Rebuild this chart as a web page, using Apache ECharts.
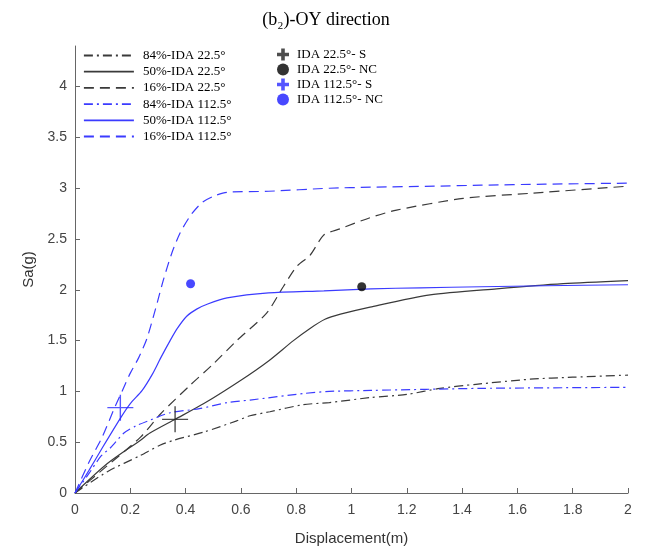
<!DOCTYPE html>
<html>
<head>
<meta charset="utf-8">
<script src="https://cdn.jsdelivr.net/npm/echarts@6/dist/echarts.min.js"></script>
<style>html,body{margin:0;padding:0;background:#fff}#c{width:652px;height:552px}</style>
</head>
<body>
<div id="c"></div>
<script>
// ---- data (Displacement m, Sa g) ----
const ida84_22 = [[0,0],[0.117,0.21],[0.237,0.37],[0.307,0.47],[0.358,0.52],[0.466,0.6],[0.585,0.71],[0.633,0.76],[0.705,0.8],[0.826,0.87],[0.92,0.89],[1.07,0.94],[1.2,0.97],[1.32,1.03],[1.45,1.07],[1.646,1.12],[1.8,1.14],[2.0,1.16]];
const ida50_22 = [[0,0],[0.117,0.29],[0.237,0.52],[0.271,0.59],[0.362,0.725],[0.466,0.88],[0.6,1.11],[0.7,1.3],[0.79,1.5],[0.85,1.62],[0.904,1.71],[0.96,1.76],[1.067,1.83],[1.284,1.95],[1.525,2.01],[1.766,2.06],[2.0,2.09]];
const ida16_22 = [[0,0],[0.1,0.23],[0.237,0.55],[0.31,0.78],[0.416,1.06],[0.5,1.27],[0.585,1.5],[0.693,1.77],[0.753,2.03],[0.802,2.23],[0.85,2.34],[0.9,2.54],[0.958,2.6],[1.067,2.71],[1.163,2.785],[1.404,2.9],[1.646,2.95],[2.0,3.02]];
const ida84_112 = [[0,0],[0.05,0.19],[0.093,0.36],[0.13,0.45],[0.177,0.59],[0.22,0.66],[0.274,0.72],[0.344,0.79],[0.45,0.83],[0.55,0.89],[0.633,0.915],[0.83,0.98],[0.92,1.0],[1.07,1.01],[1.47,1.03],[2.0,1.04]];
const ida50_112 = [[0,0],[0.05,0.22],[0.1,0.45],[0.165,0.74],[0.2,0.88],[0.243,1.01],[0.28,1.17],[0.31,1.33],[0.344,1.5],[0.37,1.62],[0.404,1.74],[0.44,1.81],[0.48,1.86],[0.55,1.92],[0.7,1.97],[0.9,1.99],[1.07,2.01],[1.25,2.02],[1.47,2.03],[1.7,2.04],[2.0,2.05]];
const ida16_112 = [[0,0],[0.05,0.3],[0.1,0.56],[0.14,0.82],[0.17,1.0],[0.2,1.18],[0.23,1.33],[0.26,1.52],[0.29,1.8],[0.32,2.1],[0.35,2.36],[0.38,2.56],[0.42,2.74],[0.46,2.86],[0.5,2.92],[0.55,2.96],[0.7,2.97],[0.92,3.0],[1.07,3.01],[1.3,3.02],[1.47,3.03],[1.7,3.04],[2.0,3.05]];
const pt_S_22 = [[0.362,0.725]];
const pt_NC_22 = [[1.037,2.03]];
const pt_S_112 = [[0.164,0.84]];
const pt_NC_112 = [[0.418,2.06]];
const xTicks = [0,0.2,0.4,0.6,0.8,1,1.2,1.4,1.6,1.8,2];
const yTicks = [0,0.5,1,1.5,2,2.5,3,3.5,4];
const lineNames = ['84%-IDA 22.5°','50%-IDA 22.5°','16%-IDA 22.5°','84%-IDA 112.5°','50%-IDA 112.5°','16%-IDA 112.5°'];
const ptNames = ['IDA 22.5°- S','IDA 22.5°- NC','IDA 112.5°- S','IDA 112.5°- NC'];

const BLK = '#3a3a3a', BLU = '#3b3bff';
const DASH = [10,6], DASHDOT = [9,4,2,4];
const serif = 'Liberation Serif, Times New Roman, serif';
const sans = 'Liberation Sans, Arial, sans-serif';
const crossPath = 'path://M0,12.3H26V13.7H0Z M12.3,0H13.7V26H12.3Z';
const plusIcon = 'path://M0,3.5H3.5V0H6.5V3.5H10V6.5H6.5V10H3.5V6.5H0Z';

function ln(name, data, color, type, w) {
  return {name, type:'line', data, symbol:'none', smooth:0.25,
    lineStyle:{color, width:w||1.2, type}, itemStyle:{color}, z:2};
}
const chart = echarts.init(document.getElementById('c'));
chart.setOption({
  animation:false,
  title:{text:'(b\u2082)-OY direction', left:'center', top:6,
    textStyle:{fontFamily:serif, fontSize:18, fontWeight:'normal', color:'#000'}},
  grid:{left:75, right:24, top:46, bottom:59},
  legend:[
    {orient:'vertical', left:83, top:49, padding:0, itemWidth:50, itemHeight:14, itemGap:3.2,
     data:lineNames, itemStyle:{opacity:0}, lineStyle:{width:1.8},
     textStyle:{fontFamily:serif, fontSize:13, color:'#000', padding:[0,0,0,4]}},
    {orient:'vertical', left:277, top:48, padding:0, itemWidth:12, itemHeight:13, itemGap:2,
     data:[{name:ptNames[0], icon:plusIcon},{name:ptNames[1], icon:'circle'},{name:ptNames[2], icon:plusIcon},{name:ptNames[3], icon:'circle'}],
     textStyle:{fontFamily:serif, fontSize:13, color:'#000', padding:[0,0,0,3]}}
  ],
  xAxis:{type:'value', min:0, max:2, interval:0.2,
    name:'Displacement(m)', nameLocation:'middle', nameGap:38,
    nameTextStyle:{fontFamily:sans, fontSize:15, color:'#333'},
    axisLine:{lineStyle:{color:'#666', width:1}},
    axisTick:{inside:true, length:5, lineStyle:{color:'#666'}},
    axisLabel:{fontFamily:sans, fontSize:14, color:'#444', margin:10,
      formatter:v=>xTicks.some(t=>Math.abs(t-v)<1e-6)?String(+v.toFixed(1)):''},
    splitLine:{show:false}},
  yAxis:{type:'value', min:0, max:4.4, interval:0.5,
    name:'Sa(g)', nameLocation:'middle', nameGap:33,
    nameTextStyle:{fontFamily:sans, fontSize:15, color:'#333'},
    axisLine:{show:true, lineStyle:{color:'#666', width:1}},
    axisTick:{show:true, inside:true, length:5, lineStyle:{color:'#666'}, customValues:yTicks},
    axisLabel:{fontFamily:sans, fontSize:14, color:'#444', margin:8, customValues:yTicks,
      formatter:v=>yTicks.some(t=>Math.abs(t-v)<1e-6)?String(v):''},
    splitLine:{show:false}},
  series:[
    ln(lineNames[0], ida84_22, BLK, DASHDOT),
    ln(lineNames[1], ida50_22, BLK, 'solid'),
    ln(lineNames[2], ida16_22, BLK, DASH),
    ln(lineNames[3], ida84_112, BLU, DASHDOT),
    ln(lineNames[4], ida50_112, BLU, 'solid'),
    ln(lineNames[5], ida16_112, BLU, DASH),
    {name:ptNames[0], type:'scatter', data:pt_S_22, symbol:crossPath, symbolSize:26, itemStyle:{color:'#222'}, z:5},
    {name:ptNames[1], type:'scatter', data:pt_NC_22, symbol:'circle', symbolSize:9, itemStyle:{color:'#000'}, z:5},
    {name:ptNames[2], type:'scatter', data:pt_S_112, symbol:crossPath, symbolSize:26, itemStyle:{color:'#2a2aff'}, z:5},
    {name:ptNames[3], type:'scatter', data:pt_NC_112, symbol:'circle', symbolSize:9, itemStyle:{color:'#1a1aff'}, z:5}
  ]
});
</script>
</body>
</html>
